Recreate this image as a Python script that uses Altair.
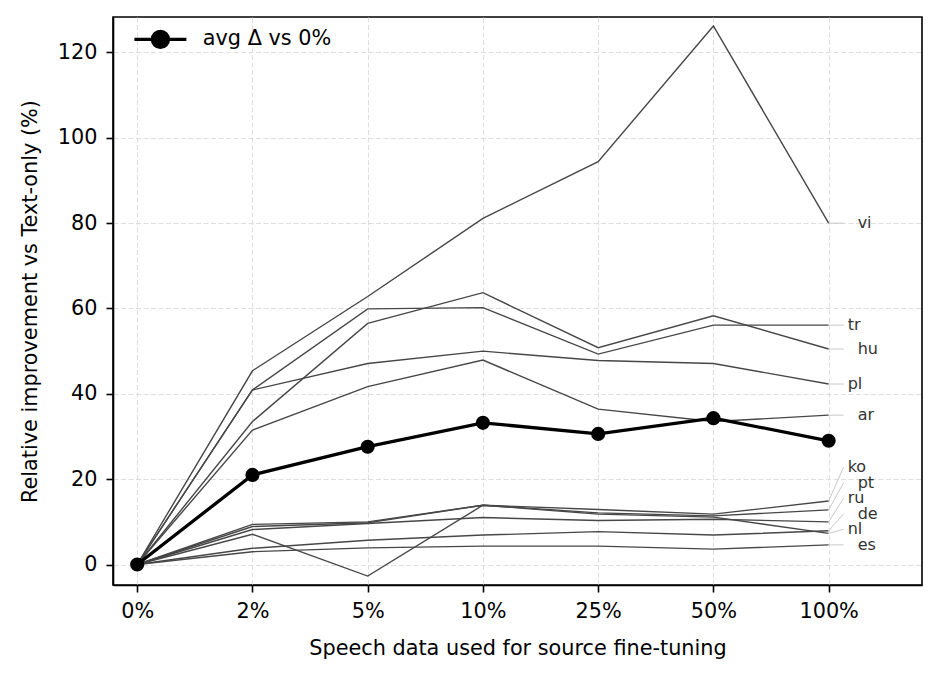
import json
import altair as alt
import pandas as pd

# ---------------- data ----------------
x_labels = ["0%", "2%", "5%", "10%", "25%", "50%", "100%"]

vi = [0, 45.4, 62.8, 81.1, 94.4, 126.2, 80.0]
tr = [0, 40.9, 59.9, 60.2, 49.3, 56.1, 56.1]
hu = [0, 33.5, 56.5, 63.7, 50.8, 58.3, 50.5]
pl = [0, 40.9, 47.1, 50.0, 47.8, 47.1, 42.3]
ar = [0, 31.5, 41.7, 47.9, 36.4, 33.5, 35.0]
ko = [0, 9.4, 10.0, 13.9, 12.9, 11.8, 14.9]
pt = [0, 8.9, 9.8, 13.9, 12.1, 11.4, 12.8]
ru = [0, 8.2, 9.6, 11.0, 10.3, 10.6, 10.0]
de = [0, 3.8, 5.7, 6.9, 7.7, 6.9, 7.9]
nl = [0, 7.1, -2.7, 13.9, 11.8, 11.1, 7.3]
es = [0, 3.0, 3.9, 4.3, 4.3, 3.6, 4.6]

avg = [0, 21.0, 27.6, 33.2, 30.6, 34.3, 29.0]
avg_name = "avg Δ vs 0%"

langs = {"vi": vi, "tr": tr, "hu": hu, "pl": pl, "ar": ar, "ko": ko,
         "pt": pt, "ru": ru, "de": de, "nl": nl, "es": es}

# ---------------- tables ----------------
rows = []
for name, vals in langs.items():
    for i, v in enumerate(vals):
        rows.append({"lang": name, "xi": i, "value": v})
lines_df = pd.DataFrame(rows)

avg_df = pd.DataFrame({"xi": list(range(len(avg))), "value": avg,
                       "series": [avg_name] * len(avg)})

# label placement (spread labels that would overlap)
W, H = 809, 568
x_dom = [-0.21, 6.81]
y_dom = [-4.8, 128.3]
pxu = W / (x_dom[1] - x_dom[0])
last_i = len(x_labels) - 1
gap = 3.65
ordered = sorted((vals[-1], name) for name, vals in langs.items())
placed = []
prev = None
for v, name in ordered:
    y = v if prev is None else max(v, prev + gap)
    placed.append((name, v, y))
    prev = y
placed.sort(key=lambda t: -t[2])
lab_df = pd.DataFrame([
    {"lang": n, "value": v, "label_y": y, "xi": last_i,
     "x_end": last_i + 15 / pxu, "far": (k % 2 == 0)}
    for k, (n, v, y) in enumerate(placed)
])

# ---------------- chart ----------------
FONT = "DejaVu Sans"
FS = 20.8
LFS = 16

x_scale = alt.Scale(domain=x_dom, nice=False, zero=False)
y_scale = alt.Scale(domain=y_dom, nice=False, zero=False)

label_expr = json.dumps(x_labels) + "[datum.value]"

x_axis = alt.Axis(values=list(range(len(x_labels))), labelExpr=label_expr,
                  title="Speech data used for source fine-tuning",
                  labelPadding=9, titlePadding=18)
y_axis = alt.Axis(values=[0, 20, 40, 60, 80, 100, 120],
                  title="Relative improvement vs Text-only (%)",
                  labelPadding=9, titlePadding=17)

base_lines = alt.Chart(lines_df).mark_line(
    color="#474747", strokeWidth=1.4
).encode(
    x=alt.X("xi:Q", scale=x_scale, axis=x_axis),
    y=alt.Y("value:Q", scale=y_scale, axis=y_axis),
    detail="lang:N",
)

connectors = alt.Chart(lab_df).mark_rule(color="#c8c8c8", strokeWidth=1).encode(
    x=alt.X("xi:Q", scale=x_scale),
    x2="x_end:Q",
    y=alt.Y("value:Q", scale=y_scale),
    y2="label_y:Q",
)

text_near = alt.Chart(lab_df).transform_filter("!datum.far").mark_text(
    align="left", baseline="middle", dx=19, font=FONT, fontSize=LFS, color="#333333"
).encode(
    x=alt.X("xi:Q", scale=x_scale),
    y=alt.Y("label_y:Q", scale=y_scale),
    text="lang:N",
)
text_far = alt.Chart(lab_df).transform_filter("datum.far").mark_text(
    align="left", baseline="middle", dx=29, font=FONT, fontSize=LFS, color="#333333"
).encode(
    x=alt.X("xi:Q", scale=x_scale),
    y=alt.Y("label_y:Q", scale=y_scale),
    text="lang:N",
)

legend_symbol = ("M-5.2,0L5.2,0M-1.6,0A1.6,1.6,0,1,0,1.6,0"
                 "A1.6,1.6,0,1,0,-1.6,0Z")

avg_legend = alt.Legend(
    title=None, orient="none", legendX=37, legendY=12,
    symbolType=legend_symbol, symbolSize=100,
    symbolStrokeWidth=3.3, symbolFillColor="black",
    symbolStrokeColor="black", symbolOpacity=1,
    labelFont=FONT, labelFontSize=FS, labelColor="black",
    labelOffset=32, padding=0,
)
avg_color = alt.Color("series:N", scale=alt.Scale(range=["black"]), legend=avg_legend)

avg_line = alt.Chart(avg_df).mark_line(strokeWidth=3.3).encode(
    x=alt.X("xi:Q", scale=x_scale),
    y=alt.Y("value:Q", scale=y_scale),
    color=avg_color,
)
avg_pts = alt.Chart(avg_df).mark_circle(size=200, opacity=1).encode(
    x=alt.X("xi:Q", scale=x_scale),
    y=alt.Y("value:Q", scale=y_scale),
    color=avg_color,
)

chart = alt.layer(
    base_lines, connectors, text_near, text_far, avg_line, avg_pts
).properties(
    width=W, height=H,
    background="white",
    autosize=alt.AutoSizeParams(type="none"),
    padding={"left": 105, "top": 9, "right": 8, "bottom": 83},
).configure_view(
    stroke="black", strokeWidth=1.6
).configure_axis(
    grid=True, gridColor="#d6d6d6", gridDash=[5, 2.5], gridWidth=0.8,
    domainColor="black", domainWidth=1.6,
    tickColor="black", tickWidth=1.6, tickSize=7,
    labelFont=FONT, labelFontSize=FS, labelColor="black",
    titleFont=FONT, titleFontSize=FS, titleColor="black",
    titleFontWeight="normal",
)

chart.save("out.html", embed_options={"renderer": "svg", "actions": False})
